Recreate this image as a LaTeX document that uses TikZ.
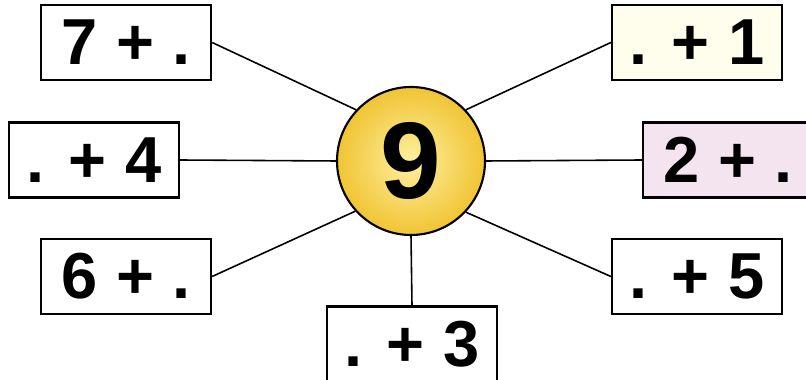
\documentclass[tikz,border=0pt]{standalone}
\usepackage{fontspec}
\setmainfont{Liberation Sans}
\usepackage{tikz}

\definecolor{sunin}{RGB}{255,240,160}
\definecolor{sunout}{RGB}{240,196,52}
\definecolor{pinkbox}{RGB}{244,228,240}
\definecolor{creambox}{RGB}{255,253,236}

\begin{document}
\begin{tikzpicture}[
  sumbox/.style={draw, line width=1.3pt, fill=white, minimum width=3.4cm, minimum height=1.5cm,
    inner sep=0pt, font=\fontsize{37}{40}\selectfont\bfseries},
  spoke/.style={line width=0.9pt}
]

% frame
\clip (0,0) rectangle (16.12,7.6);

% centre number
\node[circle, draw, line width=1.2pt, inner color=sunin, outer color=sunout, minimum size=2.96cm,
  font=\fontsize{62}{64}\selectfont\bfseries] (c) at (8.22,4.38) {9};

% boxes
\node[sumbox] (b7) at (2.52,6.75) {7 + .};
\node[sumbox] (b4) at (1.88,4.40) {. + 4};
\node[sumbox] (b6) at (2.52,2.07) {6 + .};
\node[sumbox] (b3) at (8.24,0.72) {. + 3};
\node[sumbox, fill=creambox] (b1) at (13.94,6.75) {. + 1};
\node[sumbox, fill=pinkbox] (b2) at (14.56,4.40) {2 + .};
\node[sumbox] (b5) at (13.94,2.07) {. + 5};

% spokes
\draw[spoke] (b7.east) -- (c.137);
\draw[spoke] (b4.east) -- (c.west);
\draw[spoke] (b6.east) -- (c.-138);
\draw[spoke] (b3.north) -- (c.south);
\draw[spoke] (b1.west) -- (c.43);
\draw[spoke] (b2.west) -- (c.east);
\draw[spoke] (b5.west) -- (c.-43);

\end{tikzpicture}
\end{document}
